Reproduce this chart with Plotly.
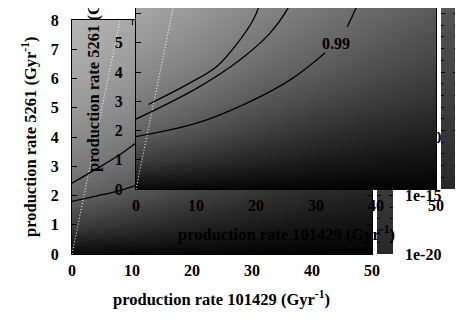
import plotly.graph_objects as go

# gray level of the shaded surface (0 = black, 255 = white)
grid_x = [0, 10, 20, 30, 40, 50]
grid_y = [0, 1, 2, 3, 4, 5, 6, 7, 8]
grid_gray = [
    [8, 6, 4, 3, 2, 2],
    [62, 48, 36, 27, 21, 17],
    [100, 82, 64, 50, 40, 33],
    [124, 106, 88, 72, 60, 50],
    [140, 124, 106, 92, 76, 64],
    [153, 138, 120, 105, 90, 76],
    [164, 150, 132, 117, 102, 88],
    [174, 160, 143, 128, 112, 98],
    [182, 168, 152, 137, 122, 107],
]

# colour bar strip (log10 of value) and its gray level
cb_level = [-20, -16, -12, -9, -6, -4, 0]
cb_gray = [40, 52, 64, 72, 80, 90, 130]
cb_tickvals = [-20, -15, -10, -5, 0]
cb_ticktext = ["1e-20", "1e-15", "1e-10", "1e-5", "1"]

# contour lines of the big plot
main_b_x = [0, 4, 8, 11, 14]
main_b_y = [2.42, 2.9, 3.4, 3.85, 4.3]
main_c_x = [0, 4, 8, 11, 15]
main_c_y = [1.8, 1.98, 2.17, 2.36, 2.6]

# contour lines of the inset copy
ins_a_x = [2.05, 8.3, 13.4, 17.3, 19.8, 21.0]
ins_a_y = [2.89, 3.55, 4.18, 5.09, 5.89, 6.6]
ins_b_x = [0, 10.1, 17.3, 22.3, 25.4, 26.2]
ins_b_y = [2.39, 3.44, 4.41, 5.32, 6.21, 6.6]
ins_c_x = [0, 10.1, 18.4, 25.7, 31.5, None, 35.2, 37.3, 37.6]
ins_c_y = [1.79, 2.25, 2.93, 3.73, 4.65, None, 5.54, 6.46, 6.6]
ins_label = "0.99"
ins_label_x, ins_label_y = 33.3, 4.99

diag = [0, 8]
xticks = [0, 10, 20, 30, 40, 50]
yticks = [0, 1, 2, 3, 4, 5, 6, 7, 8]

W, H = 463, 324
OFF = 8  # the page body margin pushes the figure 8 px right and down
TICK = dict(family="Liberation Serif", size=16, color="black", weight="bold")
TITLE = dict(TICK, size=16.5)
gray = [[0, "rgb(0,0,0)"], [1, "rgb(255,255,255)"]]


def px(v):
    return (v - OFF) / W


def py(v):
    return 1 - (v - OFF) / H


fig = go.Figure()


def add_panel(xa, ya, lines):
    fig.add_trace(go.Heatmap(x=grid_x, y=grid_y, z=grid_gray, zsmooth="best",
                             colorscale=gray, zmin=0, zmax=255, showscale=False,
                             hoverinfo="skip", xaxis=xa, yaxis=ya))
    fig.add_trace(go.Scatter(x=diag, y=diag, mode="lines", xaxis=xa, yaxis=ya,
                             line=dict(color="white", width=1, dash="1px,2px")))
    for lx, ly in lines:
        fig.add_trace(go.Scatter(x=lx, y=ly, mode="lines", xaxis=xa, yaxis=ya,
                                 line=dict(color="black", width=1.3, shape="spline"),
                                 connectgaps=False))


def add_bar(xa, ya):
    fig.add_trace(go.Heatmap(x=[0], y=cb_level, z=[[g] for g in cb_gray], zsmooth="best",
                             colorscale=gray, zmin=0, zmax=255, showscale=False,
                             hoverinfo="skip", xaxis=xa, yaxis=ya))


add_panel("x", "y", [(main_b_x, main_b_y), (main_c_x, main_c_y)])
add_bar("x2", "y2")
add_panel("x3", "y3", [(ins_a_x, ins_a_y), (ins_b_x, ins_b_y), (ins_c_x, ins_c_y)])
add_bar("x4", "y4")

ax = dict(showgrid=False, zeroline=False, ticks="inside", ticklen=5, tickcolor="black",
          showline=True, linecolor="black", linewidth=1, tickfont=TICK, automargin=False)
axx = dict(ax, ticklabelstandoff=2)
axy = dict(ax, ticklabelstandoff=9)
bar_y = dict(showgrid=False, zeroline=False, side="right", ticks="inside", ticklen=4,
             tickcolor="black", mirror="ticks", tickvals=cb_tickvals, ticktext=cb_ticktext,
             tickfont=TICK, ticklabelstandoff=11, automargin=False,
             minor=dict(dtick=1, ticks="inside", ticklen=3, tickcolor="black"))
bar_x = dict(visible=False, range=[-0.5, 0.5], automargin=False)

top = (189 - OFF) / 29.25

fig.update_layout(
    width=W, height=H, margin=dict(l=0, r=0, t=0, b=0, pad=0, autoexpand=False),
    paper_bgcolor="white", plot_bgcolor="white", showlegend=False, font=TICK,
    xaxis=dict(axx, domain=[px(72), px(372)], range=[0, 50], tickvals=xticks,
               mirror="ticks", anchor="y"),
    yaxis=dict(axy, domain=[py(254), py(20)], range=[0, 8], tickvals=yticks,
               mirror="ticks", anchor="x"),
    xaxis2=dict(bar_x, domain=[px(377), px(393)], anchor="y2"),
    yaxis2=dict(bar_y, domain=[py(254), py(20)], range=[-20, 0], anchor="x2"),
    xaxis3=dict(axx, domain=[px(136), px(436)], range=[0, 50], tickvals=xticks, anchor="y3"),
    yaxis3=dict(axy, domain=[py(189), 1], range=[0, top], tickvals=yticks,
                mirror=True, anchor="x3"),
    xaxis4=dict(bar_x, domain=[px(441), px(457)], anchor="y4"),
    yaxis4=dict(bar_y, domain=[py(189), 1], range=[-20, -20 + (189 - OFF) / 11.7], anchor="x4"),
)

xt = "production rate 101429 (Gyr<sup>-1</sup>)"
yt = "production rate 5261 (Gyr<sup>-1</sup>)"
for x, y, t, ang in [(221, 298, xt, 0), (29, 137, yt, -90), (286, 233, xt, 0), (92, 72, yt, -90)]:
    fig.add_annotation(x=px(x), y=py(y), xref="paper", yref="paper", text=t,
                       xanchor="center", yanchor="middle",
                       textangle=ang, showarrow=False, font=TITLE)
fig.add_annotation(x=ins_label_x, y=ins_label_y, xref="x3", yref="y3", text=ins_label,
                   xanchor="center", yanchor="middle", showarrow=False, font=TICK)

fig.write_html("out.html")
